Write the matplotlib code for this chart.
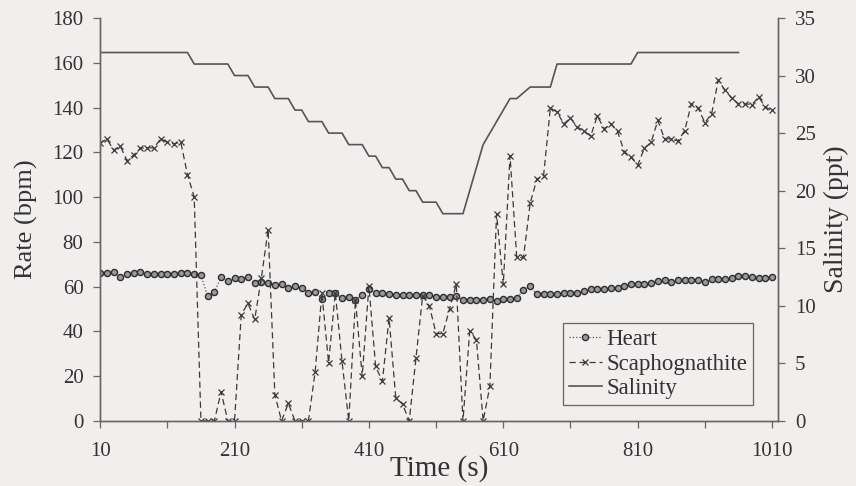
"""
Heart and scaphognathite rate against a stepped salinity change.
Dual-axis line chart: rates (bpm) on the left, salinity (ppt) on the right.
"""

import matplotlib

matplotlib.use("Agg")
import matplotlib.pyplot as plt

plt.rcParams["font.family"] = ["Liberation Serif", "DejaVu Serif"]

# sample times (s), one reading every 10 s
time_s = list(range(10, 1011, 10))
sal_time_s = list(range(10, 961, 10))

heart_bpm = [
    66, 66, 66.5, 64.5, 65.5, 66, 66.5, 65.5, 65.5, 65.8, 65.5, 65.5, 66, 66, 65.5, 65,
    55.7, 57.5, 64.3, 62.5,
    64, 63.5, 64.5, 61.7, 62, 61.7, 60.5, 61.3, 59.5, 60.3,
    59.5, 57.2, 57.5, 54.6, 57, 57.2, 54.7, 55.3, 54, 56.3,
    59,
    57, 57, 56.6, 56.3, 56.3, 56.3, 56.3, 56.3, 56.3, 55.5,
    55.5, 55.5, 55.8, 54, 54.2, 54.2, 54.2, 54.5, 53.5,
    54.3, 54.5, 55, 58.4, 60.2, 56.5, 56.5, 56.5, 56.5, 57,
    57, 57.2, 58, 58.7, 58.7, 58.7, 59.5, 59.5, 60.2, 61,
    61, 61, 61.7, 62.5, 62.9, 62, 62.9, 62.8, 62.8, 62.8,
    62, 63.2, 63.2, 63.2, 63.7, 64.7, 64.7, 64.4, 64, 64, 64.2,
]

scaph_bpm = [
    124, 126, 121, 122.7, 116.3, 118.8, 121.8, 122, 122, 126,
    124.5, 123.8, 124.5, 110, 100, 0, 0, 0, 13, 0,
    0, 47.5, 52.5, 45.3, 64, 85.5, 11.7, 0, 7.8, 0,
    0, 0, 22, 57, 26, 57.3, 26.6, 0, 54, 20,
    60.2, 24.4, 17.6, 46, 10.2, 7.5, 0, 28, 56, 51.3,
    39, 39, 50, 61, 0, 40, 36.3, 0, 15.4, 92.4,
    61, 118.5, 73, 73, 97.3, 108, 109.6, 139.8, 138, 132.7,
    135.3, 131.2, 129.7, 127.2, 136.2, 130.5, 132.7, 129.3, 120.3, 117.8,
    114.3, 121.8, 124.5, 134.2, 126, 126, 125, 129.7, 141.7, 139.8,
    133.2, 137.2, 152.2, 147.7, 144.2, 141.7, 141.7, 141.3, 144.7, 140.2,
    138.7,
]

salinity_ppt = (
    [32] * 14 + [31] * 6 + [30] * 3 + [29] * 3 + [28] * 3 + [27] * 2
    + [26] * 3 + [25] * 3 + [24] * 3 + [23] * 2 + [22] * 2 + [21] * 2
    + [20] * 2 + [19] * 3 + [18] * 4
    + [20, 22, 24, 25, 26, 27, 28, 28, 28.5, 29, 29, 29, 29]
    + [31] * 12 + [32] * 16
)

x_ticks = list(range(10, 1011, 100))
x_labels = [str(t) if (t - 10) % 200 == 0 else "" for t in x_ticks]
rate_ticks = list(range(0, 181, 20))
sal_ticks = list(range(0, 36, 5))

BG = "#f1efee"
INK = "#333333"

fig = plt.figure(figsize=(8.56, 4.86), dpi=100, facecolor=BG)
ax = fig.add_axes([0.117, 0.134, 0.792, 0.829], facecolor=BG)
ax2 = ax.twinx()

h_heart, = ax.plot(time_s, heart_bpm, linestyle=":", color="#555555", lw=0.9,
                   marker="o", markersize=4.4, markerfacecolor="#9a9a9a",
                   markeredgecolor="#2e2e2e", markeredgewidth=1.0, label="Heart")
h_scaph, = ax.plot(time_s, scaph_bpm, linestyle="--", dashes=(5, 3), color="#3a3a3a",
                   lw=0.9, marker="x", markersize=4.2, markeredgewidth=0.9,
                   label="Scaphognathite")
h_sal, = ax2.plot(sal_time_s, salinity_ppt, color="#555555", lw=1.2, label="Salinity")

ax.set_xlim(10, 1019)
ax.set_ylim(0, 180)
ax2.set_ylim(0, 35)

ax.set_xticks(x_ticks)
ax.set_xticklabels(x_labels)
ax.set_yticks(rate_ticks)
ax2.set_yticks(sal_ticks)

for a in (ax, ax2):
    a.spines["top"].set_visible(False)
    for side in ("left", "right", "bottom"):
        a.spines[side].set_color("#666666")
        a.spines[side].set_linewidth(1.0)
    a.tick_params(direction="out", length=5, width=0.9, color="#666666",
                  labelsize=15, labelcolor=INK, pad=7)
ax.tick_params(axis="x", pad=10)

ax.set_xlabel("Time (s)", fontsize=21, color=INK, labelpad=-4)
ax.set_ylabel("Rate (bpm)", fontsize=19, color=INK, labelpad=10)
ax2.set_ylabel("Salinity (ppt)", fontsize=20, color=INK, labelpad=6)

leg = ax2.legend(handles=[h_heart, h_scaph, h_sal], loc="lower right",
                 bbox_to_anchor=(0.963, 0.04), borderaxespad=0, fontsize=16.5,
                 frameon=True, fancybox=False, handlelength=1.45,
                 handletextpad=0.2, borderpad=0.25, labelspacing=0.15)
leg.get_frame().set_edgecolor("#444444")
leg.get_frame().set_facecolor(BG)
leg.get_frame().set_linewidth(0.9)
for txt in leg.get_texts():
    txt.set_color(INK)

fig.savefig("out.png", dpi=100, facecolor=BG)
